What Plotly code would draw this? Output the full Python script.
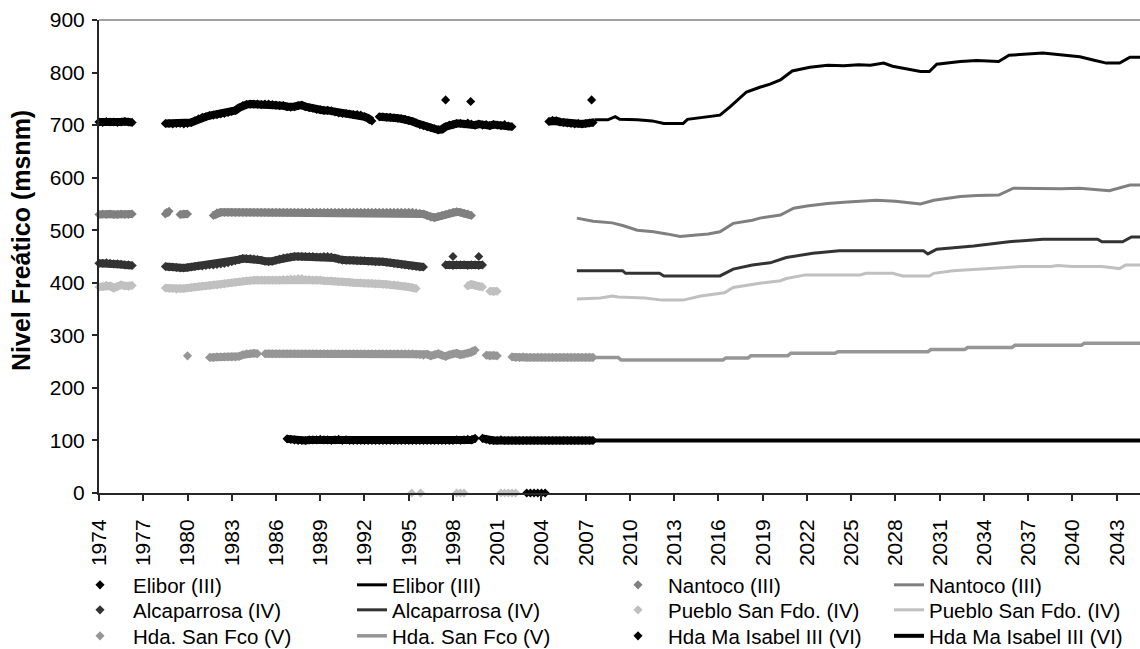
import plotly.graph_objects as go

# ---------------------------------------------------------------------------
# Observed water-table levels (msnm), quarterly readings; None = no reading
# ---------------------------------------------------------------------------
STEP = 0.25

elibor_obs_start = 1974.0
elibor_obs = [
    706, 705, 707, 706,  706, 705, 706, 707,  706, 705, None, None,  None, None, None, None,
    None, None, 703, 703,  702, 703, 703, 702,  703, 705, 708, 712,  715, 716, 718, 719,
    720, 721, 722, 724,  726, 728, 733, 737,  739, 740, 740, 740,  739, 740, 740, 739,
    738, 737, 737, 735,  734, 735, 737, 738,  735, 733, 732, 730,  729, 728, 728, 727,
    725, 723, 722, 722,  721, 720, 720, 719,  716, 713, 708, None,  716, 716, 715, 715,
    714, 713, 712, 711,  709, 707, 704, 701,  699, 697, 695, 693,  691, 692, 697, 700,
    701, 703, 703, 702,  704, 702, 700, 702,  700, 701, 699, 701,  700, 699, 701, 698,
    697, None, None, None,  None, None, None, None,  None, None, 707, 709,  708, 706, 705, 704,
    703, 702, 703, 702,  703, 704, 705,
]
elibor_extra_t = [1997.5, 1999.2, 2007.4, 2003.0, 2003.25, 2003.5, 2003.75, 2004.0, 2004.25]
elibor_extra_v = [748, 745, 748, 0, 0, 0, 0, 0, 0]

nantoco_obs_start = 1974.0
nantoco_obs = [
    530, 531, 530, 531,  530, 530, 531, 530,  530, 531, None, None,  None, None, None, None,
    None, None, 531, 536,  None, None, 530, 531,  531, None, None, None,  None, None, None, 528,
    533, 534, 534, 534,  534, 534, 534, 534,  534, 534, 534, 534,  534, 534, 534, 534,
    534, 534, 534, 534,  534, 534, 534, 534,  534, 534, 534, 534,  534, 534, 534, 534,
    534, 534, 534, 534,  534, 534, 534, 534,  534, 534, 534, 534,  534, 534, 534, 534,
    534, 534, 534, 534,  534, 534, 533, 532,  531, 528, 525, 524,  526, 528, 530, 532,
    534, 535, 534, 532,  531, 528,
]

alcaparrosa_obs_start = 1974.0
alcaparrosa_obs = [
    437, 437, 438, 437,  436, 436, 435, 434,  434, 433, None, None,  None, None, None, None,
    None, None, 431, 430,  430, 429, 428, 428,  429, 430, 431, 432,  432, 433, 434, 434,
    435, 436, 437, 438,  440, 442, 444, 446,  446, 446, 445, 444,  443, 441, 440, 441,
    443, 445, 447, 448,  449, 450, 450, 450,  450, 450, 450, 449,  449, 450, 450, 449,
    447, 445, 443, 443,  443, 443, 442, 442,  442, 441, 441, 440,  440, 440, 439, 438,
    437, 436, 435, 434,  433, 432, 431, 430,  430, None, None, None,  None, None, 434, 434,
    433, 434, 434, 434,  433, 434, 434, 433,  434,
]
alcaparrosa_extra_t = [1998.0, 1999.75]
alcaparrosa_extra_v = [450, 450]

pueblo_obs_start = 1974.0
pueblo_obs = [
    392, 393, 395, 394,  390, 393, 396, 394,  393, 395, None, None,  None, None, None, None,
    None, None, 390, 389,  389, 388, 389, 389,  390, 391, 392, 393,  394, 394, 395, 396,
    396, 397, 398, 399,  400, 401, 402, 403,  404, 404, 405, 405,  405, 405, 405, 405,
    405, 405, 406, 406,  407, 407, 408, 408,  406, 406, 405, 405,  405, 404, 404, 404,
    403, 402, 402, 401,  401, 400, 400, 400,  399, 399, 399, 398,  398, 397, 397, 396,
    396, 395, 394, 393,  392, 391, 389, None,  None, None, None, None,  None, None, None, None,
    None, None, None, None,  394, 397, 395, 393,  392, None, 384, 383,  384,
]
pueblo_extra_t = [1995.2, 1995.8, 1998.25, 1998.5, 1998.75,
                  2001.25, 2001.5, 2001.75, 2002.0, 2002.25]
pueblo_extra_v = [0, 0, 0, 0, 0, 0, 0, 0, 0, 0]

san_fco_obs_start = 1980.0
san_fco_obs = [
    261, None, None, None,  None, None, 258, 258,  259, 259, 259, 259,  259, 259, 260, 263,
    265, 265, 266, 265,  None, 265, 265, 265,  265, 265, 265, 265,  265, 265, 265, 265,
    265, 265, 265, 265,  265, 265, 265, 265,  265, 265, 265, 265,  265, 265, 265, 265,
    265, 265, 265, 265,  265, 265, 265, 265,  265, 265, 265, 265,  265, 265, 264, 263,
    262, 264, 261, 263,  265, 262, 260, 263,  265, 266, 263, 264,  266, 268, 272, None,
    None, 262, 261, 262,  261, None, None, None,  259, 258, 258, 259,  258, 258, 258, 258,
    258, 258, 258, 258,  258, 258, 258, 258,  258, 258, 258, 258,  258, 258, 258,
]

isabel_obs_start = 1986.75
isabel_obs = [
    103,  102, 101, 100, 100,  100, 101, 101, 101,  102, 101, 101, 100,  101, 102, 100, 101,
    100, 100, 100, 100,  100, 100, 100, 100,  100, 100, 100, 100,  100, 100, 100, 100,
    100, 100, 100, 100,  100, 100, 100, 100,  100, 100, 100, 100,  100, 101, 100, 101,
    102, 101, 104, None,  104, 102, 100, 100,  100, 101, 100, 100,  100, 100, 100, 100,
    100, 100, 100, 100,  100, 100, 100, 100,  100, 100, 100, 100,  100, 100, 100, 100,
    100, 100, 100,
]

# ---------------------------------------------------------------------------
# Projected levels (msnm)
# ---------------------------------------------------------------------------
elibor_proj_t = [2007.6, 2008.5, 2009.0, 2009.3, 2010.5, 2011.5, 2012.3, 2013.6, 2013.9, 2015.0,
                 2016.1, 2016.8, 2017.9, 2018.8, 2019.5, 2020.2, 2021.0, 2022.2, 2023.4, 2024.5,
                 2025.5, 2026.3, 2027.2, 2027.8, 2028.5, 2029.7, 2030.3, 2030.8, 2032.4, 2033.5,
                 2035.0, 2035.7, 2038.0, 2039.5, 2040.5, 2041.4, 2042.3, 2043.2, 2043.9, 2045.0]
elibor_proj_v = [710, 710, 716, 711, 710, 708, 703, 703, 711, 715,
                 719, 735, 763, 772, 778, 786, 803, 810, 814, 813,
                 815, 814, 818, 812, 808, 802, 802, 816, 821, 823,
                 821, 833, 837, 833, 830, 824, 818, 818, 829, 829]

nantoco_proj_t = [2006.4, 2007.5, 2008.8, 2009.5, 2010.5, 2011.6, 2012.5, 2013.4, 2014.5, 2015.3,
                  2016.1, 2017.0, 2018.3, 2018.8, 2020.2, 2021.1, 2022.0, 2023.4, 2024.5, 2025.5,
                  2026.7, 2028.0, 2029.7, 2030.6, 2032.4, 2033.5, 2035.0, 2036.0, 2037.5, 2039.2,
                  2040.5, 2042.5, 2043.9, 2045.0]
nantoco_proj_v = [523, 517, 514, 509, 500, 497, 493, 488, 491, 493,
                  497, 513, 519, 523, 529, 542, 546, 551, 553, 555,
                  557, 555, 550, 557, 564, 566, 567, 580, 579, 579,
                  580, 575, 586, 586]

alcaparrosa_proj_t = [2006.4, 2009.5, 2009.7, 2012.0, 2012.3, 2016.1, 2017.0, 2018.3, 2019.5, 2020.6,
                      2022.4, 2024.2, 2029.9, 2030.2, 2030.8, 2033.3, 2035.7, 2038.0, 2041.7, 2042.0,
                      2043.4, 2044.0, 2045.0]
alcaparrosa_proj_v = [423, 423, 418, 418, 413, 413, 426, 434, 438, 448,
                      456, 461, 461, 455, 464, 470, 478, 483, 483, 478,
                      478, 487, 487]

pueblo_proj_t = [2006.4, 2008.0, 2008.8, 2009.2, 2011.0, 2012.2, 2013.6, 2014.8, 2016.4, 2017.0,
                 2018.8, 2020.2, 2020.6, 2021.9, 2025.6, 2026.0, 2027.8, 2028.5, 2030.3, 2030.6,
                 2031.9, 2035.6, 2036.5, 2038.5, 2039.0, 2040.0, 2042.0, 2043.2, 2043.6, 2045.0]
pueblo_proj_v = [369, 371, 375, 373, 371, 367, 367, 375, 381, 391,
                 399, 404, 408, 415, 415, 418, 418, 413, 413, 418,
                 423, 429, 431, 431, 433, 431, 431, 427, 434, 434]

san_fco_proj_t = [2007.6, 2009.2, 2009.4, 2016.3, 2016.5, 2018.0, 2018.2, 2020.7, 2020.9, 2023.9,
                  2024.1, 2030.2, 2030.4, 2032.7, 2032.9, 2035.9, 2036.1, 2040.6, 2040.8, 2045.0]
san_fco_proj_v = [258, 258, 253, 253, 257, 257, 261, 261, 266, 266,
                  269, 269, 273, 273, 277, 277, 281, 281, 285, 285]

isabel_proj_t = [2007.6, 2045.0]
isabel_proj_v = [100, 100]

# Axis ticks
year_ticks = list(range(1974, 2044, 3))
year_labels = [str(y) for y in year_ticks]

FONT = "Arial, Liberation Sans, sans-serif"
TICK_FS = 21
LEGEND_FS = 20.5
TITLE_FS = 25

W, H = 1140, 649


def times(start, values):
    return [start + STEP * i for i in range(len(values))]


def add_observed(fig, name, start, values, color, legend, extra_t=(), extra_v=()):
    t = times(start, values)
    # dense run of readings: joined band underneath the diamond markers
    fig.add_trace(go.Scatter(
        x=t, y=values, mode="lines", showlegend=False, hoverinfo="skip",
        line=dict(color=color, width=8), legend=legend,
    ))
    fig.add_trace(go.Scatter(
        x=t + list(extra_t), y=values + list(extra_v), name=name, mode="markers",
        legend=legend, cliponaxis=False,
        marker=dict(symbol="diamond", size=7, color=color, line=dict(width=0)),
    ))


def add_projection(fig, name, t, v, color, width, legend):
    fig.add_trace(go.Scatter(
        x=t, y=v, name=name, mode="lines", legend=legend,
        line=dict(color=color, width=width),
    ))


fig = go.Figure()

add_observed(fig, "Elibor (III)", elibor_obs_start, elibor_obs, "#000000", "legend",
             elibor_extra_t, elibor_extra_v)
add_projection(fig, "Elibor (III)", elibor_proj_t, elibor_proj_v, "#000000", 3, "legend2")
add_observed(fig, "Nantoco (III)", nantoco_obs_start, nantoco_obs, "#808080", "legend3")
add_projection(fig, "Nantoco (III)", nantoco_proj_t, nantoco_proj_v, "#808080", 3, "legend4")

add_observed(fig, "Alcaparrosa (IV)", alcaparrosa_obs_start, alcaparrosa_obs, "#333333",
             "legend5", alcaparrosa_extra_t, alcaparrosa_extra_v)
add_projection(fig, "Alcaparrosa (IV)", alcaparrosa_proj_t, alcaparrosa_proj_v,
               "#333333", 3, "legend6")
add_observed(fig, "Pueblo San Fdo. (IV)", pueblo_obs_start, pueblo_obs, "#c0c0c0", "legend7",
             pueblo_extra_t, pueblo_extra_v)
add_projection(fig, "Pueblo San Fdo. (IV)", pueblo_proj_t, pueblo_proj_v,
               "#c0c0c0", 3, "legend8")

add_observed(fig, "Hda. San Fco (V)", san_fco_obs_start, san_fco_obs, "#969696", "legend9")
add_projection(fig, "Hda. San Fco (V)", san_fco_proj_t, san_fco_proj_v,
               "#969696", 3.5, "legend10")
add_observed(fig, "Hda Ma Isabel III (VI)", isabel_obs_start, isabel_obs, "#000000", "legend11")
add_projection(fig, "Hda Ma Isabel III (VI)", isabel_proj_t, isabel_proj_v,
               "#000000", 4, "legend12")

# Legend grid: three rows, four columns (one single-entry legend per cell)
legend_rows_px = [585, 610, 636]
legend_cols_px = [67, 352, 608, 889]
legend_itemwidth = [56, 30, 50, 30]


def legend_box(row, col):
    return dict(
        xref="container", yref="container",
        x=legend_cols_px[col] / W, y=1 - legend_rows_px[row] / H,
        xanchor="left", yanchor="middle", orientation="v",
        bgcolor="rgba(0,0,0,0)", borderwidth=0, tracegroupgap=0,
        itemwidth=legend_itemwidth[col],
        font=dict(family=FONT, size=LEGEND_FS, color="#000000"),
    )


legends = {}
for k in range(12):
    key = "legend" if k == 0 else f"legend{k + 1}"
    legends[key] = legend_box(k // 4, k % 4)

fig.update_layout(
    width=W, height=H, showlegend=True,
    margin=dict(l=99, r=0, t=20, b=156, autoexpand=False),
    paper_bgcolor="#ffffff", plot_bgcolor="#ffffff",
    font=dict(family=FONT, size=TICK_FS, color="#000000"),
    xaxis=dict(
        range=[1974, 2044.58], tickmode="array", tickvals=year_ticks, ticktext=year_labels,
        tickangle=-90, ticks="outside", ticklen=6, tickcolor="#262626", tickwidth=1.5,
        showline=True, linecolor="#262626", linewidth=2, showgrid=False, zeroline=False,
        tickfont=dict(family=FONT, size=TICK_FS), ticklabelstandoff=10,
    ),
    yaxis=dict(
        range=[0, 900], dtick=100, ticks="outside", ticklen=5, tickcolor="#262626", tickwidth=1.5,
        showline=True, linecolor="#262626", linewidth=2, showgrid=False, zeroline=False,
        tickfont=dict(family=FONT, size=TICK_FS), ticklabelstandoff=3,
    ),
    annotations=[dict(
        text="<b>Nivel Freático (msnm)</b>", textangle=-90, showarrow=False,
        xref="paper", yref="paper", x=(21 - 99) / 1041, y=(493 - 241) / 473,
        xanchor="center", yanchor="middle",
        font=dict(family=FONT, size=TITLE_FS, color="#000000"),
    )],
    shapes=[dict(type="line", xref="paper", yref="paper", x0=0, x1=1, y0=1, y1=1,
                 line=dict(color="#808080", width=1.5))],
    **legends,
)

fig.write_html("out.html")
